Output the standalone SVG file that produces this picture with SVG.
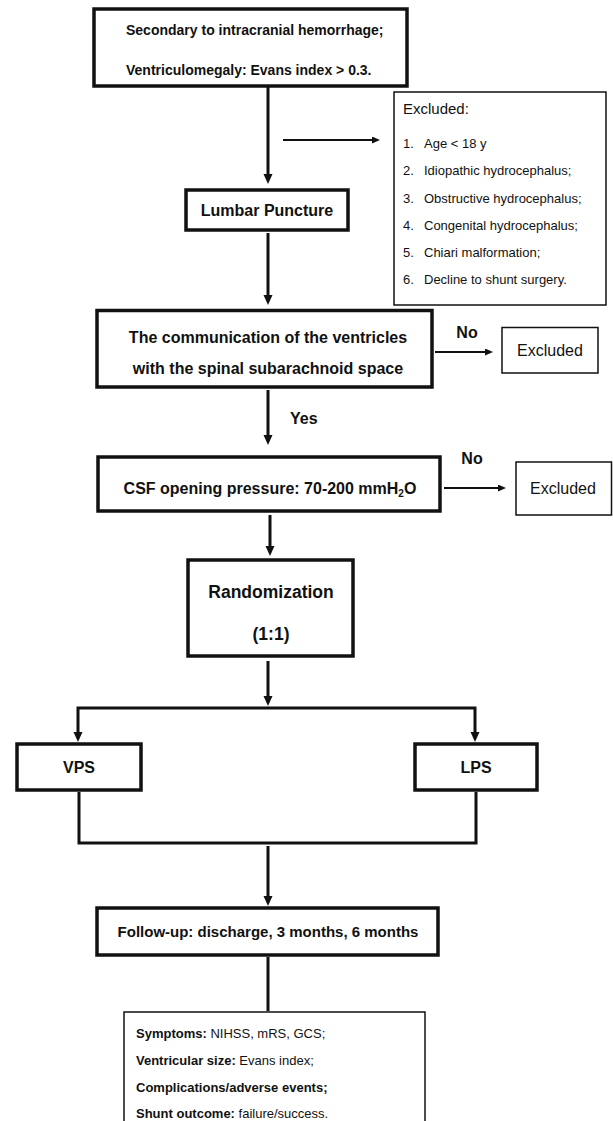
<svg xmlns="http://www.w3.org/2000/svg" width="613" height="1121" viewBox="0 0 613 1121">
<style>
text{font-family:"Liberation Sans",Arial,Helvetica,sans-serif;fill:#111}
.b{font-weight:bold}
.thick{fill:#fff;stroke:#111;stroke-width:3.5}
.thin{fill:#fff;stroke:#111;stroke-width:1.5}
.c{stroke:#111;stroke-width:3;fill:none}
.h{stroke:#111;stroke-width:2.2;fill:none}
.m{text-anchor:middle}
</style>
<defs>
<marker id="ah" markerUnits="userSpaceOnUse" markerWidth="12" markerHeight="12" refX="1" refY="4.5" orient="auto">
<path d="M0,0 L10,4.5 L0,9 z" fill="#111"/>
</marker>
<marker id="ahs" markerUnits="userSpaceOnUse" markerWidth="10" markerHeight="10" refX="1" refY="3.5" orient="auto">
<path d="M0,0 L8,3.5 L0,7 z" fill="#111"/>
</marker>
</defs>
<rect width="613" height="1121" fill="#fff"/>
<g id="connectors">
<line class="c" x1="268" y1="87" x2="268" y2="175" marker-end="url(#ah)"/>
<line class="h" x1="283" y1="140" x2="373" y2="140" marker-end="url(#ahs)"/>
<line class="c" x1="268" y1="233" x2="268" y2="296" marker-end="url(#ah)"/>
<line class="c" x1="268" y1="390" x2="268" y2="436" marker-end="url(#ah)"/>
<line class="h" x1="435" y1="352" x2="486" y2="352" marker-end="url(#ahs)"/>
<line class="h" x1="444" y1="488" x2="499" y2="488" marker-end="url(#ahs)"/>
<line class="c" x1="270" y1="515" x2="270" y2="547" marker-end="url(#ah)"/>
<line class="c" x1="268" y1="661" x2="268" y2="697" marker-end="url(#ah)"/>
<path class="c" d="M78,733 V708 H475 V733" stroke-width="2.5"/>
<line class="c" x1="78" y1="732" x2="78" y2="733" marker-end="url(#ah)"/>
<line class="c" x1="475" y1="732" x2="475" y2="733" marker-end="url(#ah)"/>
<path class="c" d="M79,792 V843 H476 V792" stroke-width="2"/>
<line class="c" x1="268" y1="846" x2="268" y2="897" marker-end="url(#ah)"/>
<line class="c" x1="268" y1="957" x2="268" y2="1011" stroke-width="2.5"/>
</g>
<g id="n-start">
<rect class="thick" x="94" y="9" width="313" height="77"/>
<text class="b" x="126" y="35" font-size="14">Secondary to intracranial hemorrhage;</text>
<text class="b" x="126" y="75" font-size="14">Ventriculomegaly: Evans index &gt; 0.3.</text>
</g>
<g id="n-excl-list">
<rect class="thin" x="394" y="92" width="212" height="213"/>
<text x="403" y="114" font-size="15">Excluded:</text>
<g font-size="13">
<text x="403" y="148">1.</text><text x="424" y="148">Age &lt; 18 y</text>
<text x="403" y="175">2.</text><text x="424" y="175">Idiopathic hydrocephalus;</text>
<text x="403" y="203">3.</text><text x="424" y="203">Obstructive hydrocephalus;</text>
<text x="403" y="230">4.</text><text x="424" y="230">Congenital hydrocephalus;</text>
<text x="403" y="257">5.</text><text x="424" y="257">Chiari malformation;</text>
<text x="403" y="284">6.</text><text x="424" y="284">Decline to shunt surgery.</text>
</g>
</g>
<g id="n-lumbar">
<rect class="thick" x="186" y="190" width="162" height="40"/>
<text class="b m" x="267" y="216" font-size="16">Lumbar Puncture</text>
</g>
<g id="n-comm">
<rect class="thick" x="97" y="310.5" width="335" height="76.5"/>
<text class="b m" x="268" y="343" font-size="16">The communication of the ventricles</text>
<text class="b m" x="268" y="374" font-size="16">with the spinal subarachnoid space</text>
</g>
<g id="n-excl1">
<rect class="thin" x="502" y="327.5" width="96" height="45.5"/>
<text class="m" x="550" y="356" font-size="16">Excluded</text>
</g>
<g id="labels">
<text class="b m" x="467" y="338" font-size="16">No</text>
<text class="b" x="290" y="424" font-size="16">Yes</text>
<text class="b m" x="472" y="464" font-size="16">No</text>
</g>
<g id="n-csf">
<rect class="thick" x="98" y="457" width="342" height="54"/>
<text class="b m" x="270" y="494" font-size="16">CSF opening pressure: 70-200 mmH<tspan font-size="10" dy="3">2</tspan><tspan dy="-3">O</tspan></text>
</g>
<g id="n-excl2">
<rect class="thin" x="516" y="462" width="95.5" height="53"/>
<text class="m" x="563" y="494" font-size="16">Excluded</text>
</g>
<g id="n-random">
<rect class="thick" x="188" y="560" width="165" height="96"/>
<text class="b m" x="271" y="598" font-size="17.5">Randomization</text>
<text class="b m" x="271" y="640" font-size="17.5">(1:1)</text>
</g>
<g id="n-vps">
<rect class="thick" x="17" y="744" width="124" height="46"/>
<text class="b m" x="79" y="773" font-size="16">VPS</text>
</g>
<g id="n-lps">
<rect class="thick" x="415" y="744" width="122" height="46"/>
<text class="b m" x="476" y="773" font-size="16">LPS</text>
</g>
<g id="n-followup">
<rect class="thick" x="97" y="908" width="341" height="47"/>
<text class="b m" x="268" y="937" font-size="15">Follow-up: discharge, 3 months, 6 months</text>
</g>
<g id="n-outcomes">
<rect class="thin" x="124" y="1012" width="301" height="120"/>
<text x="136" y="1038" font-size="13"><tspan class="b">Symptoms:</tspan> NIHSS, mRS, GCS;</text>
<text x="136" y="1065" font-size="13"><tspan class="b">Ventricular size:</tspan> Evans index;</text>
<text class="b" x="136" y="1092" font-size="13">Complications/adverse events;</text>
<text x="136" y="1118" font-size="13"><tspan class="b">Shunt outcome:</tspan> failure/success.</text>
</g>
</svg>
